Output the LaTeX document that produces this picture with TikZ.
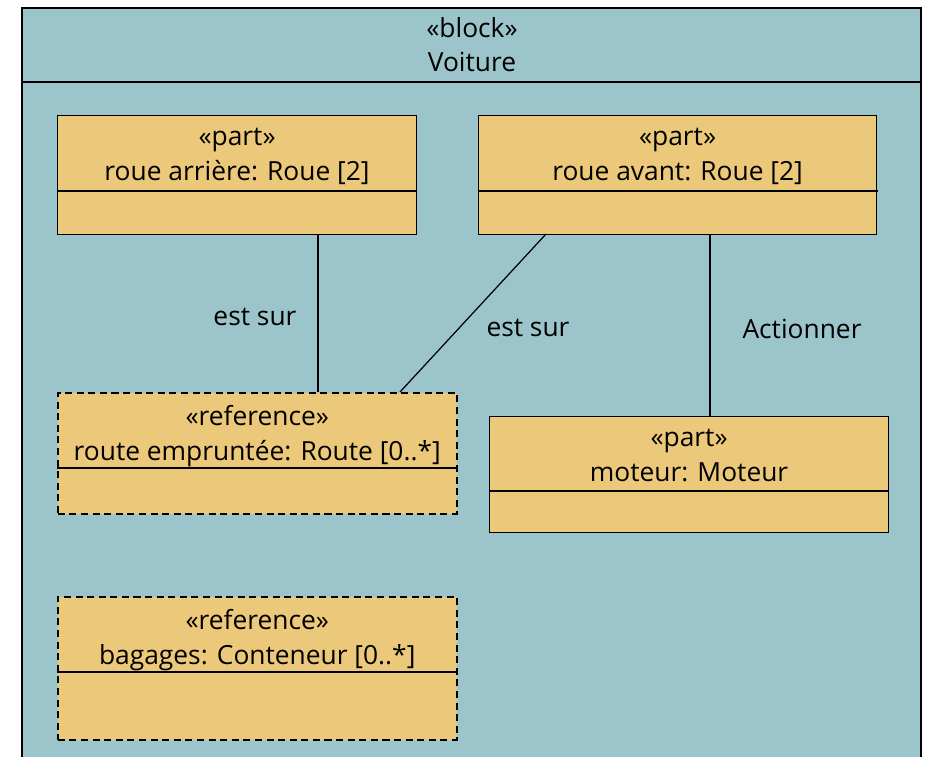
\documentclass[tikz,border=0pt]{standalone}
\usepackage{fontspec}
\setmainfont{Open Sans}
\usepackage{tikz}

\definecolor{blockbg}{RGB}{155,197,203}
\definecolor{partbg}{RGB}{236,201,122}

\tikzset{
    part/.style={draw, fill=partbg, line width=0.7pt, inner sep=0pt, anchor=north west},
    refpart/.style={part, line width=0.9pt, dash pattern=on 4pt off 2.6pt},
    title/.style={align=center, anchor=north, font=\fontsize{15}{19.5}\selectfont, inner sep=0pt},
    lbl/.style={font=\fontsize{15}{16}\selectfont}
}

\begin{document}
\begin{tikzpicture}[x=0.02cm, y=-0.02cm, line width=0.7pt]
        \useasboundingbox[fill=white] (0,0) rectangle (926,757);

        % bloc Voiture
        \fill[blockbg] (22,8) rectangle (921,757);
        \draw (22,757) -- (22,8) -- (921,8) -- (921,757);
        \draw (22,82) -- (921,82);
        \node[title] (voiture) at (472,17) {«block»\\Voiture};

        % parts
        \node[part, minimum width=7.18cm, minimum height=2.38cm] (rar) at (57,115) {};
        \node[part, minimum width=7.96cm, minimum height=2.38cm] (rav) at (478,115) {};
        \node[refpart, minimum width=7.98cm, minimum height=2.42cm] (route) at (57,392) {};
        \node[part, minimum width=7.98cm, minimum height=2.32cm] (mot) at (489,416) {};
        \node[refpart, minimum width=7.98cm, minimum height=2.86cm] (bag) at (57,596) {};

        \draw (57,191) -- (416,191);
        \draw (478,191) -- (878,191);
        \draw (57,468) -- (456,468);
        \draw (489,491) -- (889,491);
        \draw (57,672) -- (456,672);

        \node[title] (trar) at (rar.north) [yshift=-0.26cm] {«part»\\roue arrière: Roue [2]};
        \node[title] (trav) at (rav.north) [yshift=-0.26cm] {«part»\\roue avant: Roue [2]};
        \node[title] (troute) at (route.north) [yshift=-0.26cm] {«reference»\\route empruntée: Route [0..*]};
        \node[title] (tmot) at (mot.north) [yshift=-0.26cm] {«part»\\moteur: Moteur};
        \node[title] (tbag) at (bag.north) [yshift=-0.26cm] {«reference»\\bagages: Conteneur [0..*]};

        % connecteurs
        \coordinate (c1) at (318,234);
        \coordinate (c2) at (546,234);
        \coordinate (c3) at (710,234);
        \coordinate (d1) at (318,392);
        \coordinate (d2) at (400,392);
        \coordinate (d3) at (710,416);

        \draw (c1) -- (d1);
        \draw (c2) -- (d2);
        \draw (c3) -- (d3);

        \node[lbl] (l1) at (255,317) {est sur};
        \node[lbl] (l2) at (528,328) {est sur};
        \node[lbl] (l3) at (802,329) {Actionner};
    \end{tikzpicture}
\end{document}
